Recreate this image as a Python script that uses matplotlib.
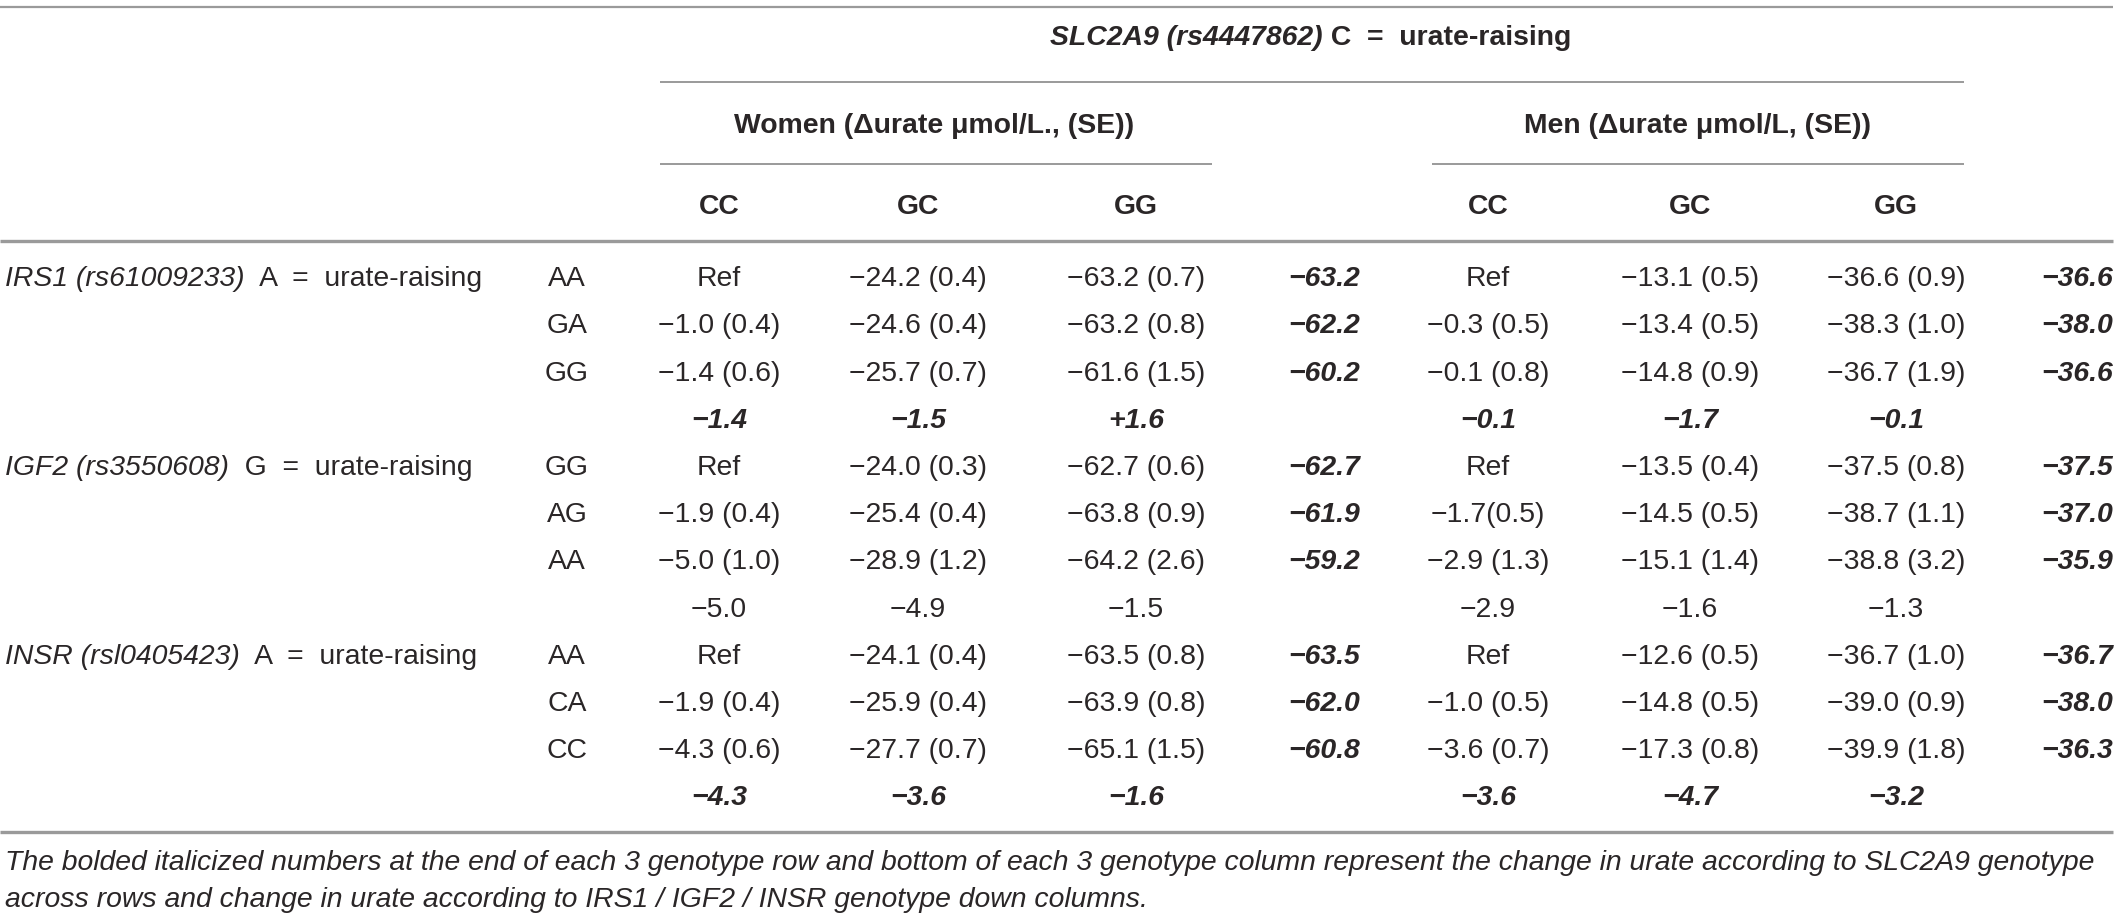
import matplotlib
matplotlib.use("Agg")
import matplotlib.pyplot as plt

# ---------------- data ----------------
slc_gene = "SLC2A9 (rs4447862)"
slc_allele = "C"
sex_headers = ["Women (\u0394urate \u03bcmol/L., (SE))", "Men (\u0394urate \u03bcmol/L, (SE))"]
slc_genotypes = ["CC", "GC", "GG"]

snp_genes = ["IRS1 (rs61009233)", "IGF2 (rs3550608)", "INSR (rsl0405423)"]
snp_alleles = ["A", "G", "A"]
snp_genotypes = [["AA", "GA", "GG"], ["GG", "AG", "AA"], ["AA", "CA", "CC"]]

women_cells = [
    ["Ref", "\u221224.2 (0.4)", "\u221263.2 (0.7)"],
    ["\u22121.0 (0.4)", "\u221224.6 (0.4)", "\u221263.2 (0.8)"],
    ["\u22121.4 (0.6)", "\u221225.7 (0.7)", "\u221261.6 (1.5)"],
    ["Ref", "\u221224.0 (0.3)", "\u221262.7 (0.6)"],
    ["\u22121.9 (0.4)", "\u221225.4 (0.4)", "\u221263.8 (0.9)"],
    ["\u22125.0 (1.0)", "\u221228.9 (1.2)", "\u221264.2 (2.6)"],
    ["Ref", "\u221224.1 (0.4)", "\u221263.5 (0.8)"],
    ["\u22121.9 (0.4)", "\u221225.9 (0.4)", "\u221263.9 (0.8)"],
    ["\u22124.3 (0.6)", "\u221227.7 (0.7)", "\u221265.1 (1.5)"],
]
women_row_change = [-63.2, -62.2, -60.2, -62.7, -61.9, -59.2, -63.5, -62.0, -60.8]
women_col_change = [[-1.4, -1.5, 1.6], [-5.0, -4.9, -1.5], [-4.3, -3.6, -1.6]]

men_cells = [
    ["Ref", "\u221213.1 (0.5)", "\u221236.6 (0.9)"],
    ["\u22120.3 (0.5)", "\u221213.4 (0.5)", "\u221238.3 (1.0)"],
    ["\u22120.1 (0.8)", "\u221214.8 (0.9)", "\u221236.7 (1.9)"],
    ["Ref", "\u221213.5 (0.4)", "\u221237.5 (0.8)"],
    ["\u22121.7(0.5)", "\u221214.5 (0.5)", "\u221238.7 (1.1)"],
    ["\u22122.9 (1.3)", "\u221215.1 (1.4)", "\u221238.8 (3.2)"],
    ["Ref", "\u221212.6 (0.5)", "\u221236.7 (1.0)"],
    ["\u22121.0 (0.5)", "\u221214.8 (0.5)", "\u221239.0 (0.9)"],
    ["\u22123.6 (0.7)", "\u221217.3 (0.8)", "\u221239.9 (1.8)"],
]
men_row_change = [-36.6, -38.0, -36.6, -37.5, -37.0, -35.9, -36.7, -38.0, -36.3]
men_col_change = [[-0.1, -1.7, -0.1], [-2.9, -1.6, -1.3], [-3.6, -4.7, -3.2]]

col_change_emphasis = [True, False, True]

footnote_lines = [
    "The bolded italicized numbers at the end of each 3 genotype row and bottom of each 3 genotype column represent the change in urate according to SLC2A9 genotype",
    "across rows and change in urate according to IRS1 / IGF2 / INSR genotype down columns.",
]

# ---------------- layout ----------------
W, H = 2118, 918
fig = plt.figure(figsize=(W / 100, H / 100), dpi=100)
ax = fig.add_axes([0, 0, 1, 1])
ax.set_xlim(0, W)
ax.set_ylim(H, 0)
ax.axis("off")

FONT = ["Liberation Sans", "DejaVu Sans"]
FS = 20.4
TXT = "#2a2627"
LINE = "#9a9a9a"
renderer = fig.canvas.get_renderer()


def fmt(v, plus=False):
    s = f"{abs(v):.1f}"
    if v < 0:
        return "\u2212" + s
    return ("+" + s) if plus else s


def put(x, yc, s, ha="center", weight="normal", style="normal", size=FS):
    return ax.text(x, yc + 0.358 * size * 100 / 72, s, ha=ha, va="baseline",
                   fontsize=size, fontweight=weight, fontstyle=style,
                   family=FONT, color=TXT)


def width(t):
    return t.get_window_extent(renderer=renderer).width


def hline(y, x0, x1, lw=1.6):
    ax.plot([x0, x1], [y, y], color=LINE, lw=lw, solid_capstyle="butt")


# rules
hline(7, 0, 2113, 1.6)
hline(82, 660, 1964, 1.4)
hline(164, 660, 1212, 1.4)
hline(164, 1432, 1964, 1.4)
hline(241, 0, 2113, 2.4)
hline(832, 0, 2113, 2.4)

# top header: SLC2A9
t1 = put(0, 35, slc_gene, ha="left", weight="bold", style="italic")
t2 = put(0, 35, f" {slc_allele}  =  urate-raising", ha="left", weight="bold")
w1, w2 = width(t1), width(t2)
x0 = 1311 - (w1 + w2) / 2
t1.set_x(x0)
t2.set_x(x0 + w1)

# sex headers
sex_centers = [934, 1698]
for xc, s in zip(sex_centers, sex_headers):
    put(xc, 123, s, weight="bold")

women_x = [719, 918, 1136]
men_x = [1488, 1690, 1896]
women_end_x = 1360
men_end_x = 2113
for xs in (women_x, men_x):
    for xc, g in zip(xs, slc_genotypes):
        put(xc, 204, g, weight="bold")

y0, dy = 276, 47.2
geno_x = 567
for b in range(3):
    yb = y0 + b * 4 * dy
    tg = put(5, yb, snp_genes[b], ha="left", style="italic")
    wg = width(tg)
    put(5 + wg, yb, f"  {snp_alleles[b]}  =  urate-raising", ha="left")
    for r in range(3):
        i = b * 3 + r
        y = yb + r * dy
        put(geno_x, y, snp_genotypes[b][r])
        for c in range(3):
            put(women_x[c], y, women_cells[i][c])
            put(men_x[c], y, men_cells[i][c])
        put(women_end_x, y, fmt(women_row_change[i]), ha="right", weight="bold", style="italic")
        put(men_end_x, y, fmt(men_row_change[i]), ha="right", weight="bold", style="italic")
    ys = yb + 3 * dy
    emph = col_change_emphasis[b]
    for c in range(3):
        kw = dict(weight="bold", style="italic") if emph else {}
        put(women_x[c], ys, fmt(women_col_change[b][c], plus=True), **kw)
        put(men_x[c], ys, fmt(men_col_change[b][c], plus=True), **kw)

# footnote
for k, line in enumerate(footnote_lines):
    put(5, 860 + k * 37, line, ha="left", style="italic", size=FS * 1.004)

fig.savefig("out.png", dpi=100)
